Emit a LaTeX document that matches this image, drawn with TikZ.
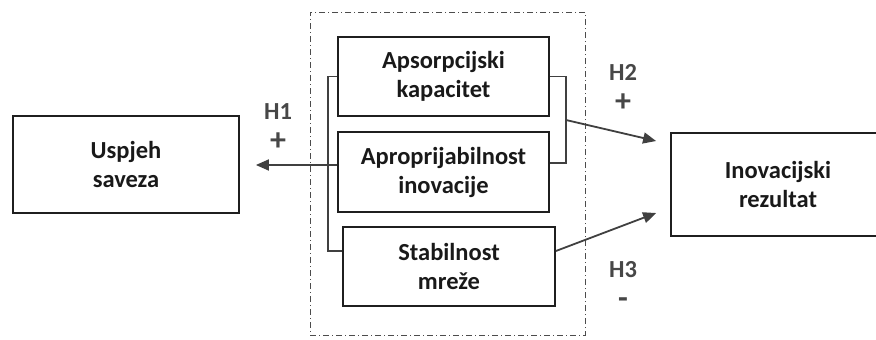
\documentclass[tikz,border=0pt]{standalone}
\usepackage{fontspec}
\setmainfont{Carlito}
\usetikzlibrary{arrows.meta,calc}
\begin{document}
\begin{tikzpicture}[x=1pt,y=-1pt,
  box/.style={draw=black!88, line width=1.8pt, align=center, inner sep=0pt,
    font=\bfseries\fontsize{24.5}{29}\selectfont, text=black!90},
  frame/.style={draw=black!70, line width=1pt, dash pattern=on 6pt off 3pt on 1pt off 3pt, inner sep=0pt},
  conn/.style={draw=black!75, line width=1.8pt},
  arr/.style={conn, -{Triangle[length=13pt,width=11pt]}},
  lab/.style={font=\bfseries\fontsize{24.5}{26}\selectfont, text=black!72, inner sep=0pt},
  sign/.style={font=\bfseries\fontsize{32}{32}\selectfont, text=black!72, inner sep=0pt}]
\useasboundingbox (0,0) rectangle (876,340);
\clip (0,0) rectangle (876,340);
\node[frame, minimum width=275pt, minimum height=323pt] (fr) at (447.5,173.5) {};
\node[box, minimum width=226pt, minimum height=97pt] (U) at (126,164.5) {Uspjeh\\saveza};
\node[box, minimum width=211pt, minimum height=79pt] (A) at (443.5,76.5) {Apsorpcijski\\kapacitet};
\node[box, minimum width=211pt, minimum height=80pt] (B) at (443.5,172) {Aproprijabilnost\\inovacije};
\node[box, minimum width=212pt, minimum height=79pt] (C) at (449,266.5) {Stabilnost\\mreže};
\node[box, minimum width=214pt, minimum height=103pt] (I) at (778,184.5) {Inovacijski\\rezultat};
\coordinate (lb) at (328,76.5);
\coordinate (rb) at (566,76.5);
\coordinate (h1e) at ($(U.east)+(16,0.5)$);
\coordinate (h2s) at (566,120);
\coordinate (h2e) at ($(I.west)+(-14,-43.5)$);
\coordinate (h3e) at ($(I.west)+(-14,28.5)$);
\draw[conn] (A.west) -- (lb) |- ($(C.west)+(0,-15.5)$);
\draw[conn] (A.east) -- (rb) |- ($(B.east)+(0,-9)$);
\draw[arr] ($(B.west)+(0,-7)$) -- (h1e);
\draw[arr] (h2s) -- (h2e);
\draw[arr] ($(C.east)+(0,-15.5)$) -- (h3e);
\node[lab] (h1) at (278,112) {H1};
\node[sign] (p1) at (278,142) {+};
\node[lab] (h2) at (623,72) {H2};
\node[sign] (p2) at (623,103) {+};
\node[lab] (h3) at (623,270) {H3};
\node[sign] (m3) at (623,303) {-};
\end{tikzpicture}
\end{document}
